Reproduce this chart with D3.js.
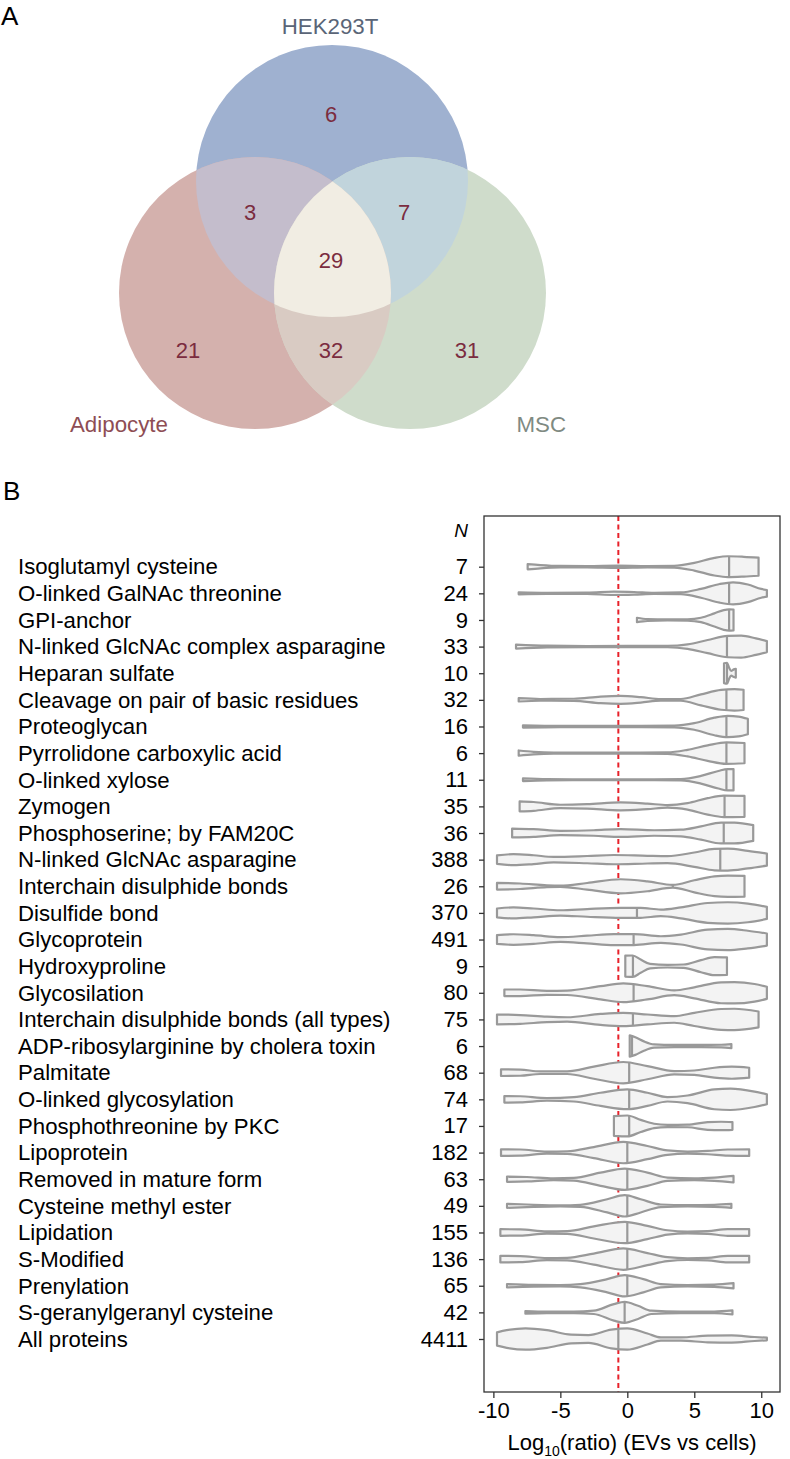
<!DOCTYPE html>
<html>
<head>
<meta charset="utf-8">
<script src="https://cdn.jsdelivr.net/npm/d3@7"></script>
<style>
  body { margin: 0; background: #fff; }
  svg { display: block; font-family: "Liberation Sans", Arial, sans-serif; }
</style>
</head>
<body>
<div class="canvas"></div>
<script>
// ---- panel A data (venn) ----
const setNames = ['HEK293T', 'Adipocyte', 'MSC'];
const regionKeys = ['H', 'A', 'M', 'HA', 'HM', 'AM', 'HAM'];
const regionCounts = [6, 21, 31, 3, 7, 32, 29];

// ---- panel B data (violins) ----
const categories = [
  'Isoglutamyl cysteine', 'O-linked GalNAc threonine', 'GPI-anchor',
  'N-linked GlcNAc complex asparagine', 'Heparan sulfate',
  'Cleavage on pair of basic residues', 'Proteoglycan', 'Pyrrolidone carboxylic acid',
  'O-linked xylose', 'Zymogen', 'Phosphoserine; by FAM20C', 'N-linked GlcNAc asparagine',
  'Interchain disulphide bonds', 'Disulfide bond', 'Glycoprotein', 'Hydroxyproline',
  'Glycosilation', 'Interchain disulphide bonds (all types)',
  'ADP-ribosylarginine by cholera toxin', 'Palmitate', 'O-linked glycosylation',
  'Phosphothreonine by PKC', 'Lipoprotein', 'Removed in mature form',
  'Cysteine methyl ester', 'Lipidation', 'S-Modified', 'Prenylation',
  'S-geranylgeranyl cysteine', 'All proteins'
];
const counts = [7, 24, 9, 33, 10, 32, 16, 6, 11, 35, 36, 388, 26, 370, 491, 9, 80, 75, 6, 68, 74, 17, 182, 63, 49, 155, 136, 65, 42, 4411];
const medians = [7.6, 7.6, 7.6, 7.44, 7.44, 7.4, 7.4, 7.4, 7.4, 7.26, 7.2, 6.94, 3.4, 0.72, 0.47, 0.42, 0.47, 0.42, 0.35, 0.14, 0.14, 0.14, 0, 0, 0, 0, 0, 0, -0.2, -0.67];
// density profiles: [log10 ratio, relative half width]
const profiles = [
  [[-7.44,0.24],[-6.5,0.15],[-5,0.07],[-3,0.06],[-0.7,0.1],[1.5,0.06],[3.5,0.08],[5,0.35],[6.5,0.8],[7.5,0.95],[8.7,0.9],[9.8,0.82]],
  [[-8.11,0.09],[-6,0.05],[-3,0.06],[-1,0.15],[0.5,0.12],[2,0.05],[4,0.08],[5.5,0.4],[6.9,0.85],[7.9,1.0],[9,0.8],[10,0.4],[10.42,0.3]],
  [[0.72,0.2],[1.5,0.08],[3,0.05],[4.5,0.06],[5.5,0.2],[6.5,0.6],[7.2,0.9],[7.6,0.97],[7.93,0.95]],
  [[-8.31,0.18],[-6,0.08],[-3,0.05],[0,0.06],[3,0.06],[4.5,0.2],[6,0.6],[7.5,0.97],[8.5,1.0],[9.6,0.75],[10.42,0.5]],
  [[7.22,0.9],[7.45,0.95],[7.6,0.5],[7.75,0.22],[7.95,0.35],[8.1,0.4]],
  [[-8.11,0.15],[-6.5,0.08],[-4,0.1],[-2,0.3],[-0.5,0.36],[1,0.25],[2.5,0.07],[4,0.08],[5.5,0.5],[7,0.9],[8,0.97],[8.68,0.92]],
  [[-7.79,0.1],[-5,0.05],[-2,0.05],[1,0.06],[3.5,0.08],[5,0.3],[6.5,0.8],[7.5,0.97],[8.3,0.9],[9.0,0.7]],
  [[-8.11,0.24],[-7,0.12],[-5.5,0.05],[-2,0.04],[1,0.04],[3,0.06],[4.5,0.3],[6,0.7],[7.4,0.97],[8.75,0.92]],
  [[-7.79,0.12],[-6,0.05],[-2,0.04],[2,0.04],[4,0.06],[5.5,0.35],[6.8,0.8],[7.5,0.97],[7.93,0.97]],
  [[-8.04,0.45],[-7,0.4],[-5,0.15],[-3,0.2],[-0.5,0.36],[1.5,0.25],[3,0.12],[4.5,0.3],[6,0.75],[7.2,0.97],[8.75,0.95]],
  [[-8.6,0.4],[-7,0.35],[-5,0.2],[-2.5,0.25],[-0.5,0.36],[2,0.25],[4,0.3],[5.5,0.6],[7,0.95],[8,0.95],[9.4,0.72]],
  [[-9.73,0.38],[-8.5,0.5],[-7,0.4],[-5.5,0.25],[-3,0.33],[-1,0.42],[1.5,0.35],[3,0.32],[5,0.65],[6.5,0.97],[7.5,1.0],[9,0.8],[10.42,0.55]],
  [[-9.73,0.3],[-8,0.25],[-6,0.08],[-5,0.05],[-3,0.3],[-0.5,0.64],[1.5,0.45],[3.4,0.12],[5,0.55],[6.5,0.9],[7.5,0.97],[8.75,0.95]],
  [[-9.73,0.4],[-8.5,0.5],[-7,0.4],[-5,0.24],[-3,0.35],[-0.5,0.45],[1,0.45],[2.5,0.3],[4,0.5],[6,0.9],[7.5,0.97],[9,0.85],[10.42,0.55]],
  [[-9.73,0.4],[-8.5,0.48],[-7,0.4],[-5,0.22],[-3,0.35],[-1,0.5],[0.5,0.5],[2.5,0.3],[4,0.45],[6,0.9],[7.5,0.97],[9,0.8],[10.42,0.55]],
  [[-0.15,0.95],[0.4,0.97],[1,0.6],[1.7,0.2],[3,0.12],[4.2,0.15],[5.5,0.55],[6.5,0.82],[7.44,0.8]],
  [[-9.18,0.3],[-8,0.3],[-6,0.18],[-4.5,0.2],[-2,0.6],[-0.3,0.85],[1.5,0.6],[3.5,0.22],[5,0.5],[7,0.95],[8,0.97],[9.5,0.8],[10.42,0.55]],
  [[-9.73,0.45],[-8,0.4],[-6,0.25],[-4.5,0.2],[-2,0.5],[-0.3,0.6],[1.5,0.45],[3.5,0.3],[5,0.6],[7,0.95],[8,0.97],[9.8,0.72]],
  [[0.18,0.97],[0.6,0.8],[1.2,0.45],[2,0.15],[3.5,0.1],[5.5,0.1],[7,0.12],[7.77,0.18]],
  [[-9.43,0.3],[-8,0.28],[-6.5,0.12],[-4.5,0.12],[-2.5,0.55],[-0.3,0.97],[1.5,0.6],[3.5,0.15],[5,0.2],[6.5,0.45],[7.8,0.55],[9.1,0.45]],
  [[-9.18,0.3],[-8,0.28],[-6,0.12],[-4,0.2],[-2,0.6],[0,0.9],[1.5,0.6],[3,0.2],[4.5,0.35],[6.5,0.9],[7.7,0.97],[9.5,0.7],[10.42,0.45]],
  [[-1.0,0.9],[0,0.95],[1,0.55],[2,0.2],[3,0.1],[4.5,0.12],[6,0.35],[7,0.38],[7.85,0.35]],
  [[-9.43,0.3],[-8,0.28],[-6,0.1],[-4.5,0.12],[-2.5,0.5],[-0.3,0.97],[1.5,0.6],[3,0.2],[4.5,0.1],[6,0.15],[7.5,0.28],[9.1,0.3]],
  [[-8.98,0.24],[-7.5,0.2],[-5.5,0.08],[-4,0.12],[-2,0.6],[-0.2,0.97],[1.5,0.6],[3,0.15],[5,0.08],[6.5,0.15],[7.93,0.3]],
  [[-8.98,0.18],[-7.5,0.12],[-5,0.05],[-3.5,0.1],[-1.5,0.6],[-0.2,0.97],[1,0.6],[2.5,0.12],[4.5,0.06],[6.5,0.1],[7.77,0.18]],
  [[-9.48,0.3],[-8,0.28],[-6,0.1],[-4.5,0.12],[-2.5,0.55],[-0.2,0.97],[1.5,0.6],[3,0.2],[4.5,0.08],[6,0.12],[7.5,0.3],[9.1,0.3]],
  [[-9.48,0.3],[-8,0.28],[-6,0.1],[-4.5,0.12],[-2.5,0.5],[-0.3,0.97],[1.5,0.55],[3,0.18],[4.5,0.08],[6,0.12],[7.5,0.3],[9.1,0.3]],
  [[-8.98,0.15],[-7,0.08],[-5,0.06],[-3.5,0.15],[-1.5,0.6],[-0.2,0.97],[1.2,0.6],[2.5,0.15],[4.5,0.06],[6.5,0.1],[7.93,0.24]],
  [[-7.61,0.12],[-6,0.06],[-4,0.06],[-2.5,0.15],[-1,0.75],[-0.2,0.95],[0.8,0.6],[1.8,0.15],[4,0.06],[6.5,0.08],[7.85,0.18]],
  [[-9.73,0.6],[-9,0.8],[-7.6,0.97],[-6,0.8],[-4.2,0.4],[-2.9,0.36],[-1.2,0.85],[0,0.97],[1.5,0.5],[2.5,0.15],[4,0.15],[6,0.3],[7.8,0.33],[9.5,0.18],[10.42,0.12]]
];
const xTicks = [-10, -5, 0, 5, 10];
const cutoff = -0.67; // red dashed reference line

const svg = d3.select('.canvas')
  .append('svg')
  .attr('width', 790)
  .attr('height', 1459);

// ================= panel A =================
svg.append('text').attr('x', 1).attr('y', 25)
  .style('font-size', '26px').text('A');

// circle layout for the three sets
const ell = [
  { cx: 332, cy: 181 },  // HEK293T
  { cx: 255, cy: 293 },  // Adipocyte
  { cx: 410, cy: 293 }   // MSC
];
const r = 136;
const regionColor = {
  H: '#9fb1d0', A: '#d4b1ad', M: '#cfdccb',
  HA: '#c4bdcc', HM: '#c1d4dc', AM: '#d9cbc3', HAM: '#f1ede3'
};

const defs = svg.append('defs');
ell.forEach((e, i) => {
  defs.append('clipPath').attr('id', 'vclip' + i)
    .append('circle')
    .attr('cx', e.cx).attr('cy', e.cy).attr('r', r);
});

const venn = svg.append('g');
const drawSet = (sel, i, fill) => sel.append('circle')
  .attr('cx', ell[i].cx).attr('cy', ell[i].cy)
  .attr('r', r).attr('fill', fill);

// single sets
drawSet(venn, 0, regionColor.H);
drawSet(venn, 1, regionColor.A);
drawSet(venn, 2, regionColor.M);
// pairs
drawSet(venn.append('g').attr('clip-path', 'url(#vclip1)'), 0, regionColor.HA);
drawSet(venn.append('g').attr('clip-path', 'url(#vclip2)'), 0, regionColor.HM);
drawSet(venn.append('g').attr('clip-path', 'url(#vclip2)'), 1, regionColor.AM);
// triple
drawSet(venn.append('g').attr('clip-path', 'url(#vclip1)')
  .append('g').attr('clip-path', 'url(#vclip2)'), 0, regionColor.HAM);

// count label spots
const regionPos = {
  H: [331, 122], A: [188, 358], M: [467, 358],
  HA: [250, 220], HM: [404, 220], AM: [331, 358], HAM: [331, 268]
};
venn.selectAll('text.count')
  .data(regionKeys)
  .enter().append('text')
  .attr('class', 'count')
  .attr('x', k => regionPos[k][0])
  .attr('y', k => regionPos[k][1])
  .attr('text-anchor', 'middle')
  .style('font-size', '22px')
  .attr('fill', '#7b2c3f')
  .text((k, i) => regionCounts[i]);

const setLabelPos = [[330, 34, 'middle', '#5a6577'], [70, 432, 'start', '#8e4d54'], [566, 432, 'end', '#7f8a82']];
venn.selectAll('text.set')
  .data(setNames)
  .enter().append('text')
  .attr('class', 'set')
  .attr('x', (d, i) => setLabelPos[i][0])
  .attr('y', (d, i) => setLabelPos[i][1])
  .attr('text-anchor', (d, i) => setLabelPos[i][2])
  .attr('fill', (d, i) => setLabelPos[i][3])
  .style('font-size', '22.3px')
  .text(d => d);

// ================= panel B =================
svg.append('text').attr('x', 3).attr('y', 500)
  .style('font-size', '26px').text('B');

const box = { left: 484, right: 780, top: 516, bottom: 1392 };

const x = d3.scaleLinear().domain([-10.7, 11.4]).range([box.left, box.right]);
const y = d3.scalePoint().domain(categories).range([566.7, 1339]);
const w = d3.scaleLinear().domain([0, 1]).range([0, 11]);

const plot = svg.append('g');

// red reference line
plot.append('line')
  .attr('x1', x(cutoff)).attr('x2', x(cutoff))
  .attr('y1', box.top).attr('y2', box.bottom)
  .attr('stroke', '#e8212a').attr('stroke-width', 2)
  .attr('stroke-dasharray', '5,3.5');

const rows = categories.map((c, i) => ({ cat: c, prof: profiles[i], med: medians[i], i }));

const violins = plot.selectAll('g.violin')
  .data(rows)
  .enter().append('g')
  .attr('class', 'violin');

violins.each(function (d) {
  const cy = y(d.cat);
  const area = d3.area()
    .x(p => x(p[0]))
    .y0(p => cy - w(p[1]))
    .y1(p => cy + w(p[1]))
    .curve(d3.curveMonotoneX);

  defs.append('clipPath').attr('id', 'vio' + d.i)
    .append('path').attr('d', area(d.prof));

  const g = d3.select(this);
  g.append('path')
    .attr('d', area(d.prof))
    .attr('fill', '#f3f3f3')
    .attr('stroke', '#999')
    .attr('stroke-width', 2.2)
    .attr('stroke-linejoin', 'round');

  // median tick, clipped to the violin outline
  g.append('line')
    .attr('clip-path', `url(#vio${d.i})`)
    .attr('x1', x(d.med)).attr('x2', x(d.med))
    .attr('y1', cy - w(1.1)).attr('y2', cy + w(1.1))
    .attr('stroke', '#999').attr('stroke-width', 2.2);
});

// frame
plot.append('rect')
  .attr('x', box.left).attr('y', box.top)
  .attr('width', box.right - box.left).attr('height', box.bottom - box.top)
  .attr('fill', 'none').attr('stroke', '#333').attr('stroke-width', 1.3);

// x axis
const xAxis = plot.append('g')
  .attr('transform', `translate(0, ${box.bottom})`)
  .call(d3.axisBottom(x).tickValues(xTicks).tickSize(6).tickPadding(4).tickFormat(d => String(d)));
xAxis.select('.domain').remove();
xAxis.selectAll('line').attr('stroke', '#333').attr('stroke-width', 1.3);
xAxis.selectAll('text').attr('fill', '#000')
  .style('font-family', '"Liberation Sans", Arial, sans-serif').style('font-size', '22px');

// y axis with the N counts as tick labels
const yAxis = plot.append('g')
  .attr('transform', `translate(${box.left}, 0)`)
  .call(d3.axisLeft(y).tickSize(5).tickPadding(11).tickFormat((d, i) => counts[i]));
yAxis.select('.domain').remove();
yAxis.selectAll('line').attr('stroke', '#333').attr('stroke-width', 1.3);
yAxis.selectAll('text').attr('fill', '#000')
  .style('font-family', '"Liberation Sans", Arial, sans-serif').style('font-size', '22px');

// category names
plot.selectAll('text.cat')
  .data(categories)
  .enter().append('text')
  .attr('class', 'cat')
  .attr('x', 18)
  .attr('y', d => y(d))
  .attr('dy', '0.35em')
  .style('font-size', '22.2px')
  .text(d => d);

// N header
plot.append('text')
  .attr('x', 468).attr('y', 537)
  .attr('text-anchor', 'end')
  .style('font-size', '19px').style('font-style', 'italic')
  .text('N');

// x axis title
const title = plot.append('text')
  .attr('x', 632).attr('y', 1450)
  .attr('text-anchor', 'middle')
  .style('font-size', '22px');
title.append('tspan').text('Log');
title.append('tspan').attr('dy', 6).style('font-size', '14px').text('10');
title.append('tspan').attr('dy', -6).text('(ratio) (EVs vs cells)');
</script>
</body>
</html>
